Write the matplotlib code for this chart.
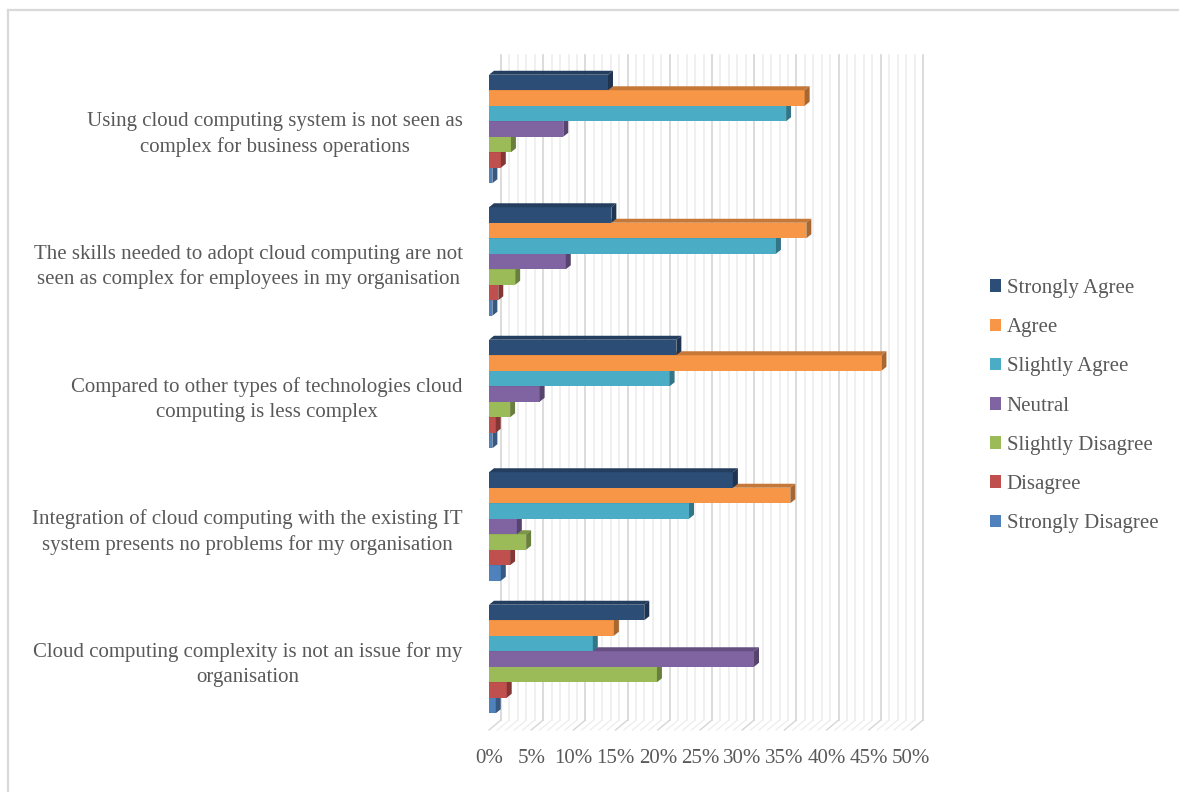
import matplotlib
matplotlib.use("Agg")
import matplotlib.pyplot as plt
import matplotlib.patches as patches
import matplotlib.transforms as mtransforms
from matplotlib.lines import Line2D
import numpy as np

plt.rcParams["font.family"] = ["Liberation Serif", "DejaVu Serif"]

# survey statements, top to bottom
statements = [
    "Using cloud computing system is not seen as\ncomplex for business operations",
    "The skills needed to adopt cloud computing are not\nseen as complex for employees in my organisation",
    "Compared to other types of technologies cloud\ncomputing is less complex",
    "Integration of cloud computing with the existing IT\nsystem presents no problems for my organisation",
    "Cloud computing complexity is not an issue for my\norganisation",
]

responses = ["Strongly Agree", "Agree", "Slightly Agree", "Neutral",
             "Slightly Disagree", "Disagree", "Strongly Disagree"]
colors = ["#2c4d75", "#f79646", "#4bacc6", "#8064a2",
          "#9bbb59", "#c0504d", "#4f81bd"]

# percentage of respondents, one list per response, in statement order
strongly_agree = [14.1, 14.5, 22.2, 28.9, 18.4]
agree = [37.4, 37.6, 46.5, 35.7, 14.8]
slightly_agree = [35.2, 34.0, 21.4, 23.7, 12.3]
neutral = [8.8, 9.1, 6.0, 3.3, 31.4]
slightly_disagree = [2.6, 3.1, 2.5, 4.4, 19.9]
disagree = [1.4, 1.1, 0.8, 2.5, 2.1]
strongly_disagree = [0.4, 0.4, 0.4, 1.4, 0.8]
series = [strongly_agree, agree, slightly_agree, neutral,
          slightly_disagree, disagree, strongly_disagree]

xticks = list(range(0, 51, 5))
text_color = "#595959"
fs = 15

W, H = 1179, 792
fig = plt.figure(figsize=(W / 100, H / 100), dpi=100)
ax = fig.add_axes([489 / W, 62 / H, 422 / W, 665 / H])
ax.set_xlim(0, 50)
ax.set_ylim(-0.536, 4.483)
ax.patch.set_alpha(0)
for s in ax.spines.values():
    s.set_visible(False)

# back wall gridlines, shifted up/right for the 3-D look
shift = mtransforms.ScaledTranslation(0.12, 0.10, fig.dpi_scale_trans)
wall = ax.get_xaxis_transform() + shift
for v in range(0, 51):
    major = v % 5 == 0
    c = "#d6d6d6" if major else "#eeeeee"
    ax.plot([v, v], [0, 1], transform=wall, color=c, lw=1.2, zorder=0,
            clip_on=False)
    # floor lines running from the wall to the front edge
    p0 = ax.get_xaxis_transform().transform((v, 0))
    p1 = wall.transform((v, 0))
    fig.add_artist(Line2D([p0[0] / W, p1[0] / W], [p0[1] / H, p1[1] / H],
                          color=c, lw=1.0, zorder=0))


def shade(c, f):
    r, g, b = matplotlib.colors.to_rgb(c)
    return (r * f, g * f, b * f)


cat_pos = np.arange(len(statements))[::-1]
h = 0.117
dx, dy = 0.59, 0.030
n = len(responses)
# draw from the bottom bar of each group upwards so upper bars hide top faces
for j in range(n - 1, -1, -1):
    vals = series[j]
    yc = cat_pos + (3 - j) * h
    z = 3 + (n - j) * 2
    ax.barh(yc, vals, height=h, color=colors[j], edgecolor="none", zorder=z)
    for y, v in zip(yc, vals):
        yb, yt = y - h / 2, y + h / 2
        top = patches.Polygon([(0, yt), (dx, yt + dy), (v + dx, yt + dy), (v, yt)],
                              closed=True, facecolor=shade(colors[j], 0.8),
                              edgecolor="none", zorder=z)
        side = patches.Polygon([(v, yb), (v + dx, yb + dy), (v + dx, yt + dy), (v, yt)],
                               closed=True, facecolor=shade(colors[j], 0.68),
                               edgecolor="none", zorder=z)
        ax.add_patch(top)
        ax.add_patch(side)

ax.set_yticks(cat_pos)
ax.set_yticklabels(statements, multialignment="center", fontsize=fs,
                   color=text_color, linespacing=1.4)
# nudge the statement labels down a touch
down = mtransforms.ScaledTranslation(0, -0.03, fig.dpi_scale_trans)
for lab in ax.get_yticklabels():
    lab.set_transform(lab.get_transform() + down)
ax.set_xticks(xticks)
ax.set_xticklabels([f"{t}%" for t in xticks], fontsize=fs, color=text_color)
ax.tick_params(axis="y", length=0, pad=19)
ax.tick_params(axis="x", length=0, pad=14)

handles = [patches.Patch(facecolor=c, edgecolor="none") for c in colors]
leg = fig.legend(handles, responses, loc="upper left",
                 bbox_to_anchor=(990 / W, 1 - 279 / H), frameon=False,
                 fontsize=fs, handlelength=0.55, handleheight=0.55,
                 handletextpad=0.25, labelspacing=0.97, borderaxespad=0,
                 borderpad=0)
for t in leg.get_texts():
    t.set_color(text_color)

# chart area border
fig.add_artist(Line2D([8 / W, 8 / W], [0, 1 - 10 / H], color="#d9d9d9", lw=1.6))
fig.add_artist(Line2D([8 / W, 1], [1 - 10 / H, 1 - 10 / H], color="#d9d9d9", lw=1.6))

fig.savefig("out.png", dpi=100)
